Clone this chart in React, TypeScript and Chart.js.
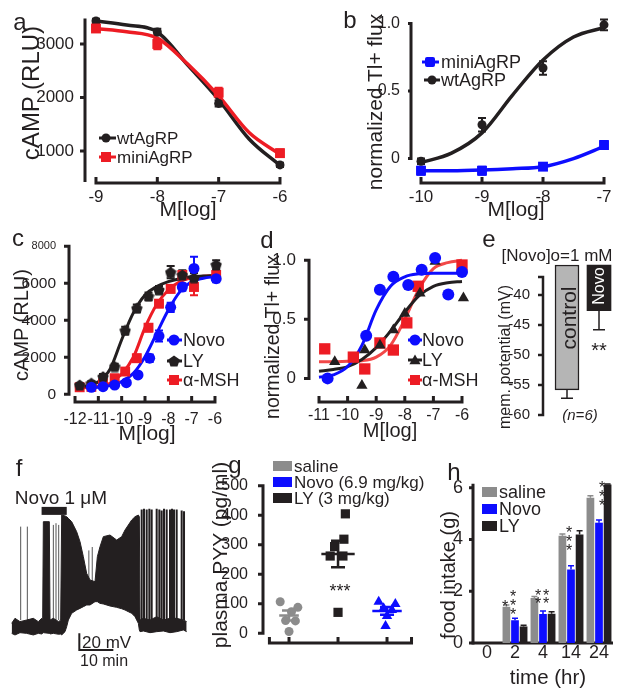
import React, { useEffect, useRef } from 'react';
import { Chart, registerables } from 'chart.js';

Chart.register(...registerables);

const FONT = '"Liberation Sans", Arial, Helvetica, sans-serif';
const INK = '#231f20';
const RED = '#ed1c24';
const RED_D = '#f24848';
const BLUE = '#0d0dff';
const GRAY = '#8c8c8c';

// ---------- panel a ----------
const aX = [-9, -8, -7, -6];
const aWt = [3430, 3225, 1890, 740];
const aWtErr = [40, 60, 60, 40];
const aMini = [3290, 3000, 2090, 960];
const aMiniErr = [60, 100, 90, 70];
const aFitX = [-9, -8.5, -8, -7.5, -7, -6.5, -6];
const aWtFit = [3430, 3355, 3225, 2600, 1960, 1220, 730];
const aMiniFit = [3290, 3230, 3110, 2620, 2030, 1340, 940];
const aYTicks = [1000, 2000, 3000];
const aXTicks = [-9, -8, -7, -6];

// ---------- panel b ----------
const bX = [-10, -9, -8, -7];
const bWt = [-0.02, 0.25, 0.67, 0.99];
const bWtErr = [0.02, 0.05, 0.05, 0.04];
const bMini = [-0.09, -0.09, -0.06, 0.1];
const bMiniErr = [0.03, 0.03, 0.02, 0.03];
const bFitX = [-10, -9.5, -9, -8.5, -8, -7.5, -7];
const bWtFit = [-0.03, 0.04, 0.19, 0.47, 0.73, 0.9, 0.97];
const bMiniFit = [-0.09, -0.09, -0.085, -0.075, -0.06, 0.0, 0.09];
const bYTicks = [0, 0.5, 1];
const bYLabels = ['0', '0.5', '1.0'];
const bXTicks = [-10, -9, -8, -7];

// ---------- panel c ----------
const cNovoX = [-11.3, -10.8, -10.3, -9.8, -9.3, -8.8, -8.4, -7.9, -7.4, -6.9, -5.95];
const cNovo = [380, 410, 500, 630, 1050, 1950, 3150, 4700, 5800, 6800, 6250];
const cNovoErr = [100, 100, 100, 120, 150, 200, 300, 250, 200, 630, 200];
const cLYX = [-11.8, -11.3, -10.8, -10.3, -9.85, -9.35, -8.85, -8.4, -7.9, -7.4, -6.9, -5.95];
const cLY = [500, 600, 950, 1500, 3450, 4650, 5300, 5650, 6600, 6450, 6300, 7000];
const cLYErr = [100, 100, 150, 150, 200, 200, 200, 200, 330, 250, 250, 250];
const cMSH = [380, 400, 600, 870, 1230, 1950, 3600, 4900, 5700, 6450, 5800, 6450];
const cMSHErr = [100, 100, 100, 150, 150, 200, 200, 200, 200, 200, 450, 200];
const cFitX = [-12, -11.5, -11, -10.5, -10, -9.5, -9, -8.5, -8, -7.5, -7, -6.5, -6];
const cLYFit = [380, 450, 680, 1350, 2950, 4400, 5370, 5820, 6090, 6250, 6350, 6400, 6420];
const cMSHFit = [350, 370, 430, 600, 1100, 2000, 3600, 4850, 5640, 6090, 6300, 6380, 6420];
const cNovoFitX = [-11.5, -11, -10.5, -10, -9.5, -9, -8.5, -8, -7.5, -7, -6.5, -6];
const cNovoFit = [330, 380, 470, 685, 1135, 2036, 3297, 4559, 5550, 6090, 6270, 6360];
const cYTicks = [0, 2000, 4000, 6000, 8000];
const cXTicks = [-12, -11, -10, -9, -8, -7, -6];

// ---------- panel d ----------
const dNovoX = [-10.7, -9.35, -8.87, -8.4, -7.88, -7.41, -6.94, -6.48, -6.0];
const dNovo = [0.0, 0.36, 0.75, 0.86, 0.79, 0.92, 1.02, 0.71, 0.9];
const dLYX = [-10.45, -9.5, -9.4, -8.87, -8.4, -8.0, -7.47, -6.94, -5.95];
const dLY = [0.14, -0.06, 0.24, 0.28, 0.41, 0.55, 0.72, 0.99, 0.68];
const dMSHX = [-10.8, -9.8, -9.4, -8.87, -8.4, -7.93, -7.53, -6.0];
const dMSH = [0.25, 0.18, 0.08, 0.3, 0.24, 0.47, 0.78, 0.96];
const dFitX = [-11, -10.5, -10, -9.5, -9, -8.5, -8, -7.5, -7, -6.5, -6];
const dNovoFit = [0.01, 0.03, 0.1, 0.28, 0.58, 0.78, 0.86, 0.885, 0.89, 0.89, 0.89];
const dLYFit = [0.06, 0.075, 0.1, 0.16, 0.26, 0.4, 0.56, 0.7, 0.78, 0.81, 0.82];
const dMSHFit = [0.14, 0.14, 0.145, 0.15, 0.18, 0.28, 0.5, 0.76, 0.93, 0.98, 1.0];
const dYTicks = [0, 0.5, 1];
const dYLabels = ['0', '0.5', '1.0'];
const dXTicks = [-11, -10, -9, -8, -7, -6];

// ---------- panel e ----------
const ePos = [1, 2];
const eBase = -35;
const eVals = [-55.8, -42.6];
const eErr = [1.4, 3.2];
const eYTicks = [-60, -55, -50, -45, -40, -37];

// ---------- panel f (trace, minutes / mV) ----------
const fT = [-0.1, 0.88, 2.35, 4.31, 6.27, 7.74, 8.73, 9.02, 9.22, 10.98, 11.18, 12.16, 13.73, 14.31, 14.61, 15.59, 16.08, 16.57, 17.55, 19.02, 20.0, 20.98, 21.96, 22.94, 24.41, 25.1, 25.88, 26.86, 28.82, 30.78, 32.25, 33.24, 34.22, 35.2, 36.18, 37.16, 37.45, 37.65, 38.63, 40.59, 42.55, 44.51, 46.47, 48.43, 50.39, 51.37];
const fTop = [-49.8, -43.9, -47.8, -45.9, -43.9, -47.8, -43.9, -45.9, 69.8, 69.8, -45.9, -43.9, -47.8, -45.9, 77.6, 76.6, 75.7, 73.7, 69.8, 58, 46.3, 28.6, 9, 1.2, -0.8, 28.6, 40.4, 52.2, 54.1, 48.2, 52.2, 60, 65.9, 71.8, 75.7, 77.6, 75.7, -45.9, -43.9, -45.9, -42, -45.9, -43.9, -43.9, -45.9, -47.8];
const fBot = [-61.6, -63.5, -60.8, -61.6, -63.5, -61.6, -62.3, -61.6, -60.8, -61.6, -62.3, -61.6, -62.7, -62.3, -63.5, -59.6, -53.7, -45.9, -38, -34.1, -32.2, -30.2, -28.2, -28.2, -24.3, -24.3, -26.3, -27, -29.4, -31, -32.6, -34.1, -36.1, -38, -42, -49.8, -57.6, -59.6, -58.8, -60.8, -59.6, -58.8, -60.8, -59.6, -57.6, -59.6];
const fSpikePreT = [2.55, 4.51, 12.16, 12.94, 13.73, 22.6, 23.6];
const fSpikePreBase = [-46, -46, -46, -46, -46, 2, 0];
const fSpikePreTop = [64, 64, 66, 68, 66, 36, 40];
const fSpikePostT = [38.14, 38.82, 39.61, 40.39, 41.08, 42.55, 43.33, 44.02, 44.71, 45.49, 46.47, 47.06, 47.65, 48.43, 49.9, 50.59];
const fSpikePostTop = [84, 85, 84, 85, 84, 85, 84, 83, 85, 84, 84, 85, 84, 84, 83, 82];
const fSpikePostBase = -46;
const fDrugT = [8.7, 16.1];
const fDrugLevel = 82.5;
const fScaleT = [19.8, 29.8];
const fScaleV = [-81.2, -61.6];

// ---------- panel g ----------
const gSaline = [107, 88, 73, 43, 42, 6];
const gSalineJit = [-0.18, 0.18, 0.05, -0.07, 0.13, 0];
const gLY = [405, 319, 294, 262, 262, 71];
const gLYJit = [0.15, 0.12, -0.07, -0.16, 0.1, 0];
const gNovo = [107, 99, 85, 79, 59, 25];
const gNovoJit = [-0.17, 0.17, -0.07, 0.1, 0, -0.03];
const gGroupX = [1, 2, 3];
const gMeans = [60, 269, 76];
const gSems = [17, 45, 13];
const gHalf = [0.2, 0.34, 0.3];
const gYTicks = [0, 100, 200, 300, 400, 500];
const gXTicks = [0.6, 1, 2, 3, 3.5];

// ---------- panel h ----------
const hCats = ['0', '2', '4', '14', '24'];
const hSaline = [0, 1.4, 1.74, 4.15, 5.61];
const hSalineErr = [0, 0.07, 0.06, 0.06, 0.08];
const hNovo = [0, 0.88, 1.12, 2.84, 4.65];
const hNovoErr = [0, 0.08, 0.12, 0.15, 0.1];
const hLY = [0, 0.64, 1.13, 4.19, 6.13];
const hLYErr = [0, 0.05, 0.08, 0.15, 0.02];
const hYTicks = [0, 2, 4, 6];

// ---------------- helpers ----------------
const pts = (xs, ys) => xs.map((x, i) => ({ x, y: ys[i] }));

const frame = (L, T, R, B, yW, xH) => {
  const pl = 2, pt = 24, pr = 12, pb = 22;
  const left = L - yW - pl, top = T - pt;
  return { left, top, width: R + pr - left, height: B + xH + pb - top, padding: { left: pl, top: pt, right: pr, bottom: pb }, yW, xH };
};

const FA = frame(85, 12, 286, 183, 52, 26);
const FB = frame(411, 12, 612, 183, 40, 26);
const FC = frame(69, 240, 219, 402, 52, 26);
const FD = frame(309, 248, 468, 402, 40, 26);
const FE = frame(543, 265, 620, 415, 40, 0);
const FF = frame(10, 495, 190, 655, 0, 0);
const FG = frame(263, 480, 415, 643, 50, 6);
const FH = frame(473, 480, 613, 643, 30, 26);

function linX(min, max, ticks, fr, o: any = {}) {
  return {
    type: 'linear', min, max, offset: false, display: fr.xH > 0,
    grid: { display: false }, border: { display: false },
    afterBuildTicks: (s) => { s.ticks = ticks.map((v) => ({ value: v })); },
    afterFit: (s) => { s.height = fr.xH; },
    ticks: {
      autoSkip: false, maxRotation: 0, minRotation: 0, padding: o.pad ?? 4, color: INK,
      display: o.show !== false,
      font: { family: FONT, size: o.size ?? 17 },
      callback: (v, i) => (o.labels ? o.labels[i] : String(v)),
    },
  };
}
function linY(min, max, ticks, fr, o: any = {}) {
  return {
    type: 'linear', min, max, display: fr.yW > 0,
    grid: { display: false }, border: { display: false },
    afterBuildTicks: (s) => { s.ticks = ticks.map((v) => ({ value: v })); },
    afterFit: (s) => { s.width = fr.yW; },
    ticks: {
      autoSkip: false, padding: o.pad ?? 6, color: INK,
      font: o.font ?? { family: FONT, size: o.size ?? 17 },
      callback: (v, i) => (o.labels ? o.labels[i] : String(v)),
    },
  };
}
function base(fr, scales) {
  return {
    responsive: false, maintainAspectRatio: false, animation: false, devicePixelRatio: 1, events: [],
    layout: { padding: fr.padding, autoPadding: false },
    plugins: { legend: { display: false }, tooltip: { enabled: false }, title: { display: false } },
    scales,
  };
}

function axesPlugin(o) {
  return {
    id: 'prismAxes',
    beforeDatasetsDraw(chart) {
      const { ctx, chartArea: ca, scales } = chart;
      const lw = o.lw ?? 3;
      ctx.save();
      ctx.strokeStyle = INK; ctx.lineWidth = lw; ctx.lineCap = 'butt';
      if (o.y) {
        const ys = scales.y;
        ctx.beginPath();
        ctx.moveTo(ca.left, ys.getPixelForValue(o.y[0]) + lw / 2);
        ctx.lineTo(ca.left, ys.getPixelForValue(o.y[1]) - lw / 2);
        (o.yTicks || []).forEach((v) => {
          const py = ys.getPixelForValue(v);
          ctx.moveTo(ca.left, py); ctx.lineTo(ca.left - (o.yLen ?? 5), py);
        });
        ctx.stroke();
      }
      if (o.x) {
        const xs = scales.x;
        const x0 = o.x === 'full' ? ca.left - lw / 2 : xs.getPixelForValue(o.x[0]) - lw / 2;
        const x1 = o.x === 'full' ? ca.right : xs.getPixelForValue(o.x[1]) + lw / 2;
        ctx.beginPath();
        ctx.moveTo(x0, ca.bottom); ctx.lineTo(x1, ca.bottom);
        (o.xTicks || []).forEach((v) => {
          const px = xs.getPixelForValue(v);
          ctx.moveTo(px, ca.bottom); ctx.lineTo(px, ca.bottom - (o.xLen ?? 6));
        });
        ctx.stroke();
      }
      ctx.restore();
    },
  };
}

function drawErr(chart, items) {
  const ctx = chart.ctx;
  items.forEach((it) => {
    const meta = chart.getDatasetMeta(it.ds);
    const ys = chart.scales[meta.yAxisID];
    const data = chart.data.datasets[it.ds].data;
    ctx.save();
    ctx.strokeStyle = it.color; ctx.lineWidth = it.w ?? 2;
    meta.data.forEach((el, i) => {
      const e = it.err[i];
      if (!e) return;
      let v = data[i];
      if (v && typeof v === 'object' && !Array.isArray(v)) v = v.y;
      if (Array.isArray(v)) v = v[1];
      const up = it.dir !== 'down', dn = it.dir !== 'up';
      const y1 = ys.getPixelForValue(up ? v + e : v);
      const y2 = ys.getPixelForValue(dn ? v - e : v);
      const x = el.x, c = it.cap ?? 4;
      ctx.beginPath();
      ctx.moveTo(x, y1); ctx.lineTo(x, y2);
      if (up) { ctx.moveTo(x - c, y1); ctx.lineTo(x + c, y1); }
      if (dn) { ctx.moveTo(x - c, y2); ctx.lineTo(x + c, y2); }
      ctx.stroke();
    });
    ctx.restore();
  });
}
function errPlugin(items) {
  return {
    id: 'errBars',
    beforeDatasetsDraw(chart) { drawErr(chart, items.filter((i) => !i.after)); },
    afterDatasetsDraw(chart) { drawErr(chart, items.filter((i) => i.after)); },
  };
}
function meanPlugin(items) {
  return {
    id: 'meanSem',
    afterDatasetsDraw(chart) {
      const { ctx, scales } = chart;
      items.forEach((it) => {
        const xs = scales.x, ys = scales.y;
        const px = xs.getPixelForValue(it.x);
        const my = ys.getPixelForValue(it.mean);
        const y1 = ys.getPixelForValue(it.mean + it.sem), y2 = ys.getPixelForValue(it.mean - it.sem);
        ctx.save();
        ctx.strokeStyle = it.color; ctx.lineWidth = 2.5;
        ctx.beginPath();
        ctx.moveTo(xs.getPixelForValue(it.x - it.half), my); ctx.lineTo(xs.getPixelForValue(it.x + it.half), my);
        ctx.moveTo(px, y1); ctx.lineTo(px, y2);
        ctx.moveTo(px - 7, y1); ctx.lineTo(px + 7, y1);
        ctx.moveTo(px - 7, y2); ctx.lineTo(px + 7, y2);
        ctx.stroke();
        ctx.restore();
      });
    },
  };
}

function makePentagon(d, color) {
  const c = document.createElement('canvas');
  c.width = d; c.height = d;
  const x = c.getContext('2d');
  x.fillStyle = color;
  x.beginPath();
  for (let k = 0; k < 5; k++) {
    const ang = -Math.PI / 2 + (k * 2 * Math.PI) / 5;
    const px = d / 2 + (d / 2) * Math.cos(ang), py = d / 2 + 0.6 + (d / 2) * Math.sin(ang);
    if (k === 0) x.moveTo(px, py); else x.lineTo(px, py);
  }
  x.closePath(); x.fill();
  return c;
}

const marker = (data, color, style, r) => ({
  type: 'line', data, showLine: false, pointStyle: style, pointRadius: r,
  pointBackgroundColor: color, pointBorderColor: color, pointBorderWidth: 0, clip: false,
});
const fit = (data, color, w) => ({
  type: 'line', data, borderColor: color, borderWidth: w, pointRadius: 0,
  cubicInterpolationMode: 'monotone', fill: false, clip: false,
});

// ---------------- configs ----------------
function cfgA() {
  return {
    type: 'line',
    data: { datasets: [
      marker(pts(aX, aMini), RED, 'rect', 7),
      marker(pts(aX, aWt), INK, 'circle', 4.5),
      fit(pts(aFitX, aMiniFit), RED, 3.5),
      fit(pts(aFitX, aWtFit), INK, 3.5),
    ] },
    options: base(FA, {
      x: linX(-9.179, -5.902, aXTicks, FA, { pad: -4 }),
      y: linY(402, 3598, aYTicks, FA, { pad: 3 }),
    }),
    plugins: [
      axesPlugin({ y: [450, 3450], x: [-9, -6], yTicks: aYTicks, xTicks: aXTicks }),
      errPlugin([{ ds: 0, err: aMiniErr, color: RED }, { ds: 1, err: aWtErr, color: INK }]),
    ],
  };
}
function cfgB() {
  return {
    type: 'line',
    data: { datasets: [
      marker(pts(bX, bWt), INK, 'circle', 4.5),
      marker(pts(bX, bMini), BLUE, 'rect', 7),
      fit(pts(bFitX, bWtFit), INK, 3.5),
      fit(pts(bFitX, bMiniFit), BLUE, 3.5),
    ] },
    options: base(FB, {
      x: linX(-10.164, -6.869, bXTicks, FB, { pad: -4 }),
      y: linY(-0.181, 1.085, bYTicks, FB, { pad: 3, size: 16, labels: bYLabels }),
    }),
    plugins: [
      axesPlugin({ y: [0, 1], x: [-10, -7], yTicks: bYTicks, xTicks: bXTicks, yLen: 3 }),
      errPlugin([{ ds: 0, err: bWtErr, color: INK }, { ds: 1, err: bMiniErr, color: BLUE }]),
    ],
  };
}
function cfgC(pent) {
  return {
    type: 'line',
    data: { datasets: [
      marker(pts(cNovoX, cNovo), BLUE, 'circle', 5.5),
      marker(pts(cLYX, cLY), INK, pent, 6),
      marker(pts(cLYX, cMSH), RED, 'rect', 7),
      fit(pts(cNovoFitX, cNovoFit), BLUE, 3),
      fit(pts(cFitX, cLYFit), INK, 3),
      fit(pts(cFitX, cMSHFit), RED, 3),
    ] },
    options: base(FC, {
      x: linX(-12.258, -5.828, cXTicks, FC, { pad: 0, size: 16 }),
      y: linY(-416, 8340, cYTicks, FC, {
        pad: 5,
        font: (ctx) => ({ family: FONT, size: ctx.tick && ctx.tick.value === 8000 ? 11 : 15.5 }),
      }),
    }),
    plugins: [
      axesPlugin({ y: [0, 8000], x: [-12, -6], yTicks: cYTicks, xTicks: cXTicks }),
      errPlugin([
        { ds: 0, err: cNovoErr, color: BLUE },
        { ds: 1, err: cLYErr, color: INK },
        { ds: 2, err: cMSHErr, color: RED },
      ]),
    ],
  };
}
function cfgD() {
  return {
    type: 'line',
    data: { datasets: [
      marker(pts(dNovoX, dNovo), BLUE, 'circle', 6),
      marker(pts(dLYX, dLY), INK, 'triangle', 6.5),
      marker(pts(dMSHX, dMSH), RED, 'rect', 8),
      fit(pts(dFitX, dNovoFit), BLUE, 3),
      fit(pts(dFitX, dLYFit), INK, 3),
      fit(pts(dFitX, dMSHFit), RED_D, 3),
    ] },
    options: base(FD, {
      x: linX(-11.35, -5.79, dXTicks, FD, { pad: -4, size: 16 }),
      y: linY(-0.2, 1.104, dYTicks, FD, { pad: 5, size: 17, labels: dYLabels }),
    }),
    plugins: [axesPlugin({ y: [0, 1], x: [-11, -6], yTicks: dYTicks, xTicks: dXTicks })],
  };
}
function cfgE() {
  return {
    type: 'bar',
    data: { datasets: [{
      data: ePos.map((x, i) => ({ x, y: [eBase, eVals[i]] })),
      backgroundColor: ['#b5b5b5', INK], borderColor: INK, borderWidth: [1.5, 0],
      borderSkipped: false, barThickness: 24, clip: false,
    }] },
    options: base(FE, {
      x: { type: 'linear', min: 0.25, max: 2.656, display: false, offset: false },
      y: linY(-60, -35, eYTicks, FE, { pad: 5, size: 15, labels: eYTicks.map((v) => (v === -37 ? '' : String(v))) }),
    }),
    plugins: [
      axesPlugin({ y: [-60, -37], yTicks: eYTicks, yLen: 5, lw: 2.5 }),
      errPlugin([{ ds: 0, err: eErr, color: INK, dir: 'down', after: true, w: 1.5, cap: 6 }]),
    ],
  };
}
function cfgF() {
  const spikes = (ts, lows, tops) => ts.flatMap((t, i) => [
    { x: t, y: Array.isArray(lows) ? lows[i] : lows }, { x: t, y: tops[i] }, { x: t, y: null },
  ]);
  const ln = (data, color, w, extra = {}) => ({
    data, borderColor: color, borderWidth: w, pointRadius: 0, tension: 0, fill: false, spanGaps: false, ...extra,
  });
  return {
    type: 'line',
    data: { datasets: [
      ln(pts(fT, fTop), INK, 1),
      ln(pts(fT, fBot), INK, 1, { fill: '-1', backgroundColor: INK }),
      ln(spikes(fSpikePreT, fSpikePreBase, fSpikePreTop), '#555', 1),
      ln(spikes(fSpikePostT, fSpikePostBase, fSpikePostTop), INK, 2),
      ln(pts(fDrugT, [fDrugLevel, fDrugLevel]), INK, 8),
      ln([{ x: fScaleT[0], y: fScaleV[1] }, { x: fScaleT[0], y: fScaleV[0] }, { x: fScaleT[1], y: fScaleV[0] }], INK, 2),
    ] },
    options: base(FF, {
      x: { type: 'linear', min: -0.59, max: 52.35, display: false },
      y: { type: 'linear', min: -87.06, max: 101.2, display: false },
    }),
  };
}
function cfgG() {
  const jit = (g, vals, offs) => vals.map((v, i) => ({ x: g + offs[i], y: v }));
  return {
    type: 'line',
    data: { datasets: [
      marker(jit(gGroupX[0], gSaline, gSalineJit), GRAY, 'circle', 4.5),
      marker(jit(gGroupX[1], gLY, gLYJit), INK, 'rect', 6.5),
      marker(jit(gGroupX[2], gNovo, gNovoJit), BLUE, 'triangle', 6),
    ] },
    options: base(FG, {
      x: linX(0.469, 3.571, gXTicks, FG, { show: false }),
      y: linY(-32.9, 519.7, gYTicks, FG, { pad: 7, size: 16 }),
    }),
    plugins: [
      axesPlugin({ y: [0, 500], x: [0.6, 3.5], yTicks: gYTicks, xTicks: gXTicks }),
      meanPlugin(gGroupX.map((x, i) => ({ x, mean: gMeans[i], sem: gSems[i], half: gHalf[i], color: [GRAY, INK, BLUE][i] }))),
    ],
  };
}
function cfgH() {
  const bar = (label, data, color) => ({ label, data, backgroundColor: color, categoryPercentage: 0.92, barPercentage: 0.9 });
  return {
    type: 'bar',
    data: { labels: hCats, datasets: [bar('saline', hSaline, GRAY), bar('Novo', hNovo, BLUE), bar('LY', hLY, INK)] },
    options: base(FH, {
      x: {
        type: 'category', grid: { display: false }, border: { display: false },
        afterFit: (s) => { s.height = FH.xH; },
        ticks: { autoSkip: false, maxRotation: 0, padding: -9, color: INK, font: { family: FONT, size: 18 } },
      },
      y: linY(0, 6.3, hYTicks, FH, { pad: 2, size: 18 }),
    }),
    plugins: [
      axesPlugin({ y: [0, 6.1], x: 'full', yTicks: hYTicks, yLen: 4 }),
      errPlugin([
        { ds: 0, err: hSalineErr, color: GRAY, dir: 'up', after: true, w: 1.5, cap: 3 },
        { ds: 1, err: hNovoErr, color: BLUE, dir: 'up', after: true, w: 1.5, cap: 3 },
        { ds: 2, err: hLYErr, color: INK, dir: 'up', after: true, w: 1.5, cap: 3 },
      ]),
    ],
  };
}

// ---------------- view ----------------
function Tx({ x, y, s, t, a = 'c', rot = 0, style = {} }: any) {
  const tr = (a === 'c' ? 'translate(-50%,-50%)' : a === 'l' ? 'translate(0,-50%)' : 'translate(-100%,-50%)') + (rot ? ` rotate(${rot}deg)` : '');
  return (
    <div style={{ position: 'absolute', left: x, top: y, fontSize: s, lineHeight: 1, whiteSpace: 'nowrap', transform: tr, ...style }}>{t}</div>
  );
}
const Star = ({ x, y, s = 16, t = '*' }: any) => <Tx x={x} y={y + 0.22 * s} s={s} t={t} />;

const Cv = ({ r, fr }: any) => (
  <canvas ref={r} width={fr.width} height={fr.height} style={{ position: 'absolute', left: fr.left, top: fr.top, width: fr.width, height: fr.height }} />
);

const polyPts = (cx, cy, r, n, rot) => {
  const out = [];
  for (let k = 0; k < n; k++) {
    const a = rot + (k * 2 * Math.PI) / n;
    out.push(`${(cx + r * Math.cos(a)).toFixed(1)},${(cy + r * Math.sin(a)).toFixed(1)}`);
  }
  return out.join(' ');
};

export default function App() {
  const ra = useRef(null), rb = useRef(null), rc = useRef(null), rd = useRef(null);
  const re = useRef(null), rf = useRef(null), rg = useRef(null), rh = useRef(null);
  useEffect(() => {
    Chart.defaults.font.family = FONT;
    Chart.defaults.color = INK;
    const pent = makePentagon(12, INK);
    const charts = [
      new Chart(ra.current, cfgA() as any),
      new Chart(rb.current, cfgB() as any),
      new Chart(rc.current, cfgC(pent) as any),
      new Chart(rd.current, cfgD() as any),
      new Chart(re.current, cfgE() as any),
      new Chart(rf.current, cfgF() as any),
      new Chart(rg.current, cfgG() as any),
      new Chart(rh.current, cfgH() as any),
    ];
    return () => charts.forEach((c) => c.destroy());
  }, []);

  const L = 24;
  return (
    <div style={{ position: 'absolute', left: 0, top: 0, width: 624, height: 699, background: '#fff', overflow: 'hidden', fontFamily: FONT, color: INK }}>
      <Cv r={ra} fr={FA} />
      <Cv r={rb} fr={FB} />
      <Cv r={rc} fr={FC} />
      <Cv r={rd} fr={FD} />
      <Cv r={re} fr={FE} />
      <Cv r={rf} fr={FF} />
      <Cv r={rg} fr={FG} />
      <Cv r={rh} fr={FH} />

      <svg width={624} height={699} style={{ position: 'absolute', left: 0, top: 0 }}>
        {/* a legend */}
        <line x1={99} x2={116} y1={138} y2={138} stroke={INK} strokeWidth={3} />
        <circle cx={106} cy={138} r={4.5} fill={INK} />
        <line x1={99} x2={116} y1={157} y2={157} stroke={RED} strokeWidth={3} />
        <rect x={101} y={152} width={10} height={10} fill={RED} />
        {/* b legend */}
        <line x1={422} x2={439} y1={62} y2={62} stroke={BLUE} strokeWidth={3} />
        <rect x={425} y={57} width={10} height={10} rx={2} fill={BLUE} />
        <line x1={424} x2={440} y1={80} y2={80} stroke={INK} strokeWidth={3} />
        <circle cx={432} cy={80} r={4.5} fill={INK} />
        {/* c legend */}
        <line x1={167} x2={182} y1={340} y2={340} stroke={BLUE} strokeWidth={3} />
        <circle cx={174} cy={340} r={5.5} fill={BLUE} />
        <line x1={167} x2={182} y1={361} y2={361} stroke={INK} strokeWidth={3} />
        <polygon points={polyPts(174, 361.5, 6, 5, -Math.PI / 2)} fill={INK} />
        <line x1={167} x2={182} y1={380} y2={380} stroke={RED} strokeWidth={3} />
        <rect x={169} y={375} width={10} height={10} fill={RED} />
        {/* d legend */}
        <line x1={408} x2={422} y1={340} y2={340} stroke={BLUE} strokeWidth={3} />
        <circle cx={415} cy={340} r={5.5} fill={BLUE} />
        <line x1={408} x2={422} y1={360} y2={360} stroke={INK} strokeWidth={3} />
        <polygon points={polyPts(415, 361, 6.5, 3, -Math.PI / 2)} fill={INK} />
        <line x1={408} x2={422} y1={380} y2={380} stroke={RED} strokeWidth={3} />
        <rect x={410} y={375} width={10} height={10} fill={RED} />
        {/* g legend */}
        <rect x={273} y={461} width={19} height={10} fill={GRAY} />
        <rect x={273} y={477} width={19} height={10} fill={BLUE} />
        <rect x={273} y={493} width={19} height={10} fill={INK} />
        {/* h legend */}
        <rect x={482} y={487} width={15} height={10} fill={GRAY} />
        <rect x={482} y={504} width={15} height={10} fill={BLUE} />
        <rect x={482} y={521} width={15} height={10} fill={INK} />
      </svg>

      {/* panel letters */}
      <Tx x={20} y={22} s={L} t="a" />
      <Tx x={350} y={20} s={L} t="b" />
      <Tx x={18} y={238} s={L} t="c" />
      <Tx x={267} y={240} s={L} t="d" />
      <Tx x={489} y={239} s={L} t="e" />
      <Tx x={19} y={468} s={L} t="f" />
      <Tx x={235} y={465} s={L} t="g" />
      <Tx x={454} y={472} s={L} t="h" />

      {/* a */}
      <Tx x={31} y={93} s={24} t="cAMP (RLU)" rot={-90} />
      <Tx x={188} y={208} s={21} t="M[log]" />
      <Tx x={117} y={138} s={17} t="wtAgRP" a="l" />
      <Tx x={117} y={157} s={17} t="miniAgRP" a="l" />
      {/* b */}
      <Tx x={374} y={102} s={21} t="normalized Tl+ flux" rot={-90} />
      <Tx x={516} y={208} s={21} t="M[log]" />
      <Tx x={441} y={62} s={18} t="miniAgRP" a="l" />
      <Tx x={441} y={80} s={18} t="wtAgRP" a="l" />
      {/* c */}
      <Tx x={21} y={325} s={20} t="cAMP (RLU)" rot={-90} />
      <Tx x={147} y={432} s={21} t="M[log]" />
      <Tx x={183} y={340} s={18} t="Novo" a="l" />
      <Tx x={183} y={361} s={18} t="LY" a="l" />
      <Tx x={183} y={380} s={18} t="α-MSH" a="l" />
      {/* d */}
      <Tx x={273} y={337} s={19.5} t="normalized Tl+ flux" rot={-90} />
      <Tx x={390} y={430} s={20} t="M[log]" />
      <Tx x={422} y={340} s={18} t="Novo" a="l" />
      <Tx x={422} y={360} s={18} t="LY" a="l" />
      <Tx x={422} y={380} s={18} t="α-MSH" a="l" />
      {/* e */}
      <Tx x={505} y={357} s={16} t="mem. potential (mV)" rot={-90} />
      <Tx x={557} y={255} s={17} t="[Novo]o=1 mM" />
      <Tx x={568} y={318} s={21} t="control" rot={-90} />
      <Tx x={599} y={286} s={16} t="Novo" rot={-90} style={{ color: '#fff' }} />
      <Star x={599} y={346} s={20} t="**" />
      <Tx x={580} y={414} s={15} t="(n=6)" style={{ fontStyle: 'italic' }} />
      {/* f */}
      <Tx x={61} y={497} s={19} t="Novo 1 μM" />
      <Tx x={82} y={642} s={17} t="20 mV" a="l" />
      <Tx x={80} y={661} s={16} t="10 min" a="l" />
      {/* g */}
      <Tx x={219} y={555} s={21} t="plasma PYY (pg/ml)" rot={-90} />
      <Tx x={294} y={466} s={17} t="saline" a="l" />
      <Tx x={294} y={482} s={17} t="Novo (6.9 mg/kg)" a="l" />
      <Tx x={294} y={498} s={17} t="LY (3 mg/kg)" a="l" />
      <Star x={340} y={587} s={18} t="***" />
      {/* h */}
      <Tx x={448} y={575} s={20} t="food intake (g)" rot={-90} />
      <Tx x={548} y={677} s={20.5} t="time (hr)" />
      <Tx x={499} y={492} s={18} t="saline" a="l" />
      <Tx x={499} y={509} s={18} t="Novo" a="l" />
      <Tx x={499} y={526} s={18} t="LY" a="l" />
      <Star x={513} y={593} />
      <Star x={513} y={602} />
      <Star x={513} y={611} />
      <Star x={505} y={603} />
      <Star x={538} y={592} />
      <Star x={538} y={600} />
      <Star x={546} y={592} />
      <Star x={546} y={600} />
      <Star x={569} y={529} />
      <Star x={569} y={538} />
      <Star x={569} y={547} />
      <Star x={602} y={484} />
      <Star x={602} y={493} />
      <Star x={602} y={502} />
    </div>
  );
}
